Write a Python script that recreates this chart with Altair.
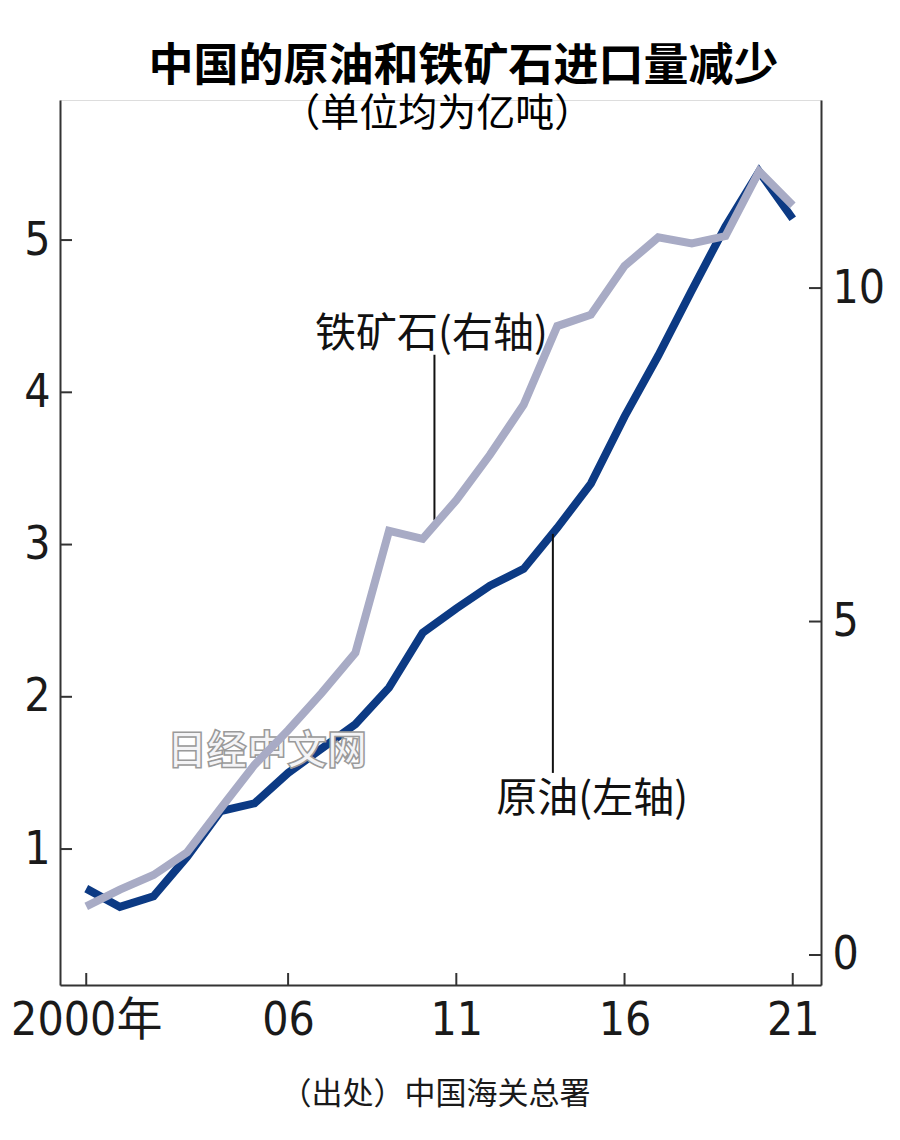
import altair as alt
import pandas as pd

# ---- data ----
years = list(range(2000, 2022))
crude_oil = [0.74, 0.62, 0.69, 0.95, 1.25, 1.30, 1.50, 1.66, 1.82, 2.06, 2.42,
             2.58, 2.73, 2.84, 3.11, 3.40, 3.84, 4.24, 4.67, 5.09, 5.45, 5.14]
iron_ore = [0.73, 0.98, 1.20, 1.54, 2.20, 2.85, 3.37, 3.93, 4.53, 6.36, 6.24,
            6.82, 7.50, 8.25, 9.43, 9.60, 10.33, 10.76, 10.67, 10.78, 11.75, 11.24]

x_tick_values = [2000, 2006, 2011, 2016, 2021]
left_tick_values = [1, 2, 3, 4, 5]
right_tick_values = [0, 5, 10]

title_text = "中国的原油和铁矿石进口量减少"
subtitle_text = "（单位均为亿吨）"
subtitle_pos = [2010.43, 5.825]          # year, left-axis units
source_text = "（出处）中国海关总署"

# annotation labels and leader lines (data units)
oil_label = "原油(左轴)"
oil_label_pos = [2015.04, 1.32]
oil_leader = [2013.87, 3.07, 1.50]      # x, y top, y bottom (left axis units)
iron_label = "铁矿石(右轴)"
iron_label_pos = [2010.26, 9.30]
iron_leader = [2010.35, 9.00, 6.52]     # x, y top, y bottom (right axis units)
watermark = "日经中文网"
watermark_pos = [2005.37, 1.64]

# ---- tables ----
df = pd.DataFrame({"year": years, "oil": crude_oil, "iron": iron_ore})
df_xt = pd.DataFrame({"year": x_tick_values})
df_lt = pd.DataFrame({"v": left_tick_values})
df_rt = pd.DataFrame({"v": right_tick_values})
df_oil_ann = pd.DataFrame({"x": [oil_leader[0]], "y": [oil_leader[1]], "y2": [oil_leader[2]]})
df_iron_ann = pd.DataFrame({"x": [iron_leader[0]], "y": [iron_leader[1]], "y2": [iron_leader[2]]})
df_oil_lab = pd.DataFrame({"x": [oil_label_pos[0]], "y": [oil_label_pos[1]], "t": [oil_label]})
df_iron_lab = pd.DataFrame({"x": [iron_label_pos[0]], "y": [iron_label_pos[1]], "t": [iron_label]})
df_wm = pd.DataFrame({"x": [watermark_pos[0]], "y": [watermark_pos[1]], "t": [watermark]})
df_sub = pd.DataFrame({"x": [subtitle_pos[0]], "y": [subtitle_pos[1]], "t": [subtitle_text]})

W, H = 761, 885
OIL_COLOR = "#0c3a84"
IRON_COLOR = "#a8abc5"
NUM_FONT = "Liberation Sans Narrow, DejaVu Sans Condensed, Noto Sans CJK SC"
CJK_FONT = "Noto Sans CJK SC"

x_scale = alt.Scale(domain=[1999.22, 2021.84], nice=False, zero=False)
yl_scale = alt.Scale(domain=[0.107, 5.92], nice=False, zero=False)
yr_scale = alt.Scale(domain=[-0.45, 12.82], nice=False, zero=False)

x_axis = alt.Axis(
    values=x_tick_values,
    labelExpr="datum.value == 2000 ? '2000年' : slice('0' + (datum.value % 100), -2)",
    ticks=False, tickSize=0, grid=False,
    domainColor="#333333", domainWidth=2,
    labelFont=NUM_FONT, labelFontSize=46, labelColor="#1a1a1a", labelPadding=13,
    title=source_text, titleFont=CJK_FONT, titleFontSize=31, titleFontWeight="normal",
    titleColor="#1a1a1a", titlePadding=36, titleX=375, titleAlign="center",
)
yl_axis = alt.Axis(
    values=left_tick_values, orient="left", format="d",
    ticks=False, tickSize=0, grid=False,
    domainColor="#333333", domainWidth=2,
    labelFont=NUM_FONT, labelFontSize=46, labelColor="#1a1a1a", labelPadding=10,
    title=None,
)
yr_axis = alt.Axis(
    values=right_tick_values, orient="right", format="d",
    ticks=False, tickSize=0, grid=False,
    domainColor="#333333", domainWidth=2,
    labelFont=NUM_FONT, labelFontSize=46, labelColor="#1a1a1a", labelPadding=11,
    title=None,
)

X = alt.X("year:Q", scale=x_scale, axis=x_axis)

# ---- left (crude oil) group ----
oil_line = alt.Chart(df).mark_line(
    color=OIL_COLOR, strokeWidth=8, strokeJoin="miter", strokeCap="butt"
).encode(x=X, y=alt.Y("oil:Q", scale=yl_scale, axis=yl_axis))

left_ticks = alt.Chart(df_lt).mark_rule(color="#333333", strokeWidth=2).encode(
    y=alt.Y("v:Q", scale=yl_scale), x=alt.value(0), x2=alt.value(12)
)
x_ticks = alt.Chart(df_xt).mark_rule(color="#333333", strokeWidth=2).encode(
    x=alt.X("year:Q", scale=x_scale), y=alt.value(H - 12), y2=alt.value(H)
)
oil_leader_rule = alt.Chart(df_oil_ann).mark_rule(color="#111111", strokeWidth=2).encode(
    x=alt.X("x:Q", scale=x_scale), y=alt.Y("y:Q", scale=yl_scale), y2="y2:Q"
)
oil_text = alt.Chart(df_oil_lab).mark_text(
    font=CJK_FONT, fontSize=41, color="#111111", align="center", baseline="middle"
).encode(x=alt.X("x:Q", scale=x_scale), y=alt.Y("y:Q", scale=yl_scale), text="t:N")
wm_text = alt.Chart(df_wm).mark_text(
    font=CJK_FONT, fontSize=40, fontWeight="bold", fill="#f4f4f6", stroke="#9a9a9a",
    strokeWidth=1.5, align="center", baseline="middle"
).encode(x=alt.X("x:Q", scale=x_scale), y=alt.Y("y:Q", scale=yl_scale), text="t:N")
sub_text = alt.Chart(df_sub).mark_text(
    font=CJK_FONT, fontSize=39, color="#000000", align="center", baseline="middle"
).encode(x=alt.X("x:Q", scale=x_scale), y=alt.Y("y:Q", scale=yl_scale), text="t:N")

left = alt.layer(oil_line, left_ticks, x_ticks, oil_leader_rule, oil_text, wm_text, sub_text)

# ---- right (iron ore) group ----
iron_line = alt.Chart(df).mark_line(
    color=IRON_COLOR, strokeWidth=8, strokeJoin="miter", strokeCap="butt"
).encode(x=X, y=alt.Y("iron:Q", scale=yr_scale, axis=yr_axis))
right_ticks = alt.Chart(df_rt).mark_rule(color="#333333", strokeWidth=2).encode(
    y=alt.Y("v:Q", scale=yr_scale), x=alt.value(W - 12), x2=alt.value(W)
)
iron_leader_rule = alt.Chart(df_iron_ann).mark_rule(color="#111111", strokeWidth=2).encode(
    x=alt.X("x:Q", scale=x_scale), y=alt.Y("y:Q", scale=yr_scale), y2="y2:Q"
)
iron_text = alt.Chart(df_iron_lab).mark_text(
    font=CJK_FONT, fontSize=41, color="#111111", align="center", baseline="middle"
).encode(x=alt.X("x:Q", scale=x_scale), y=alt.Y("y:Q", scale=yr_scale), text="t:N")

right = alt.layer(iron_leader_rule, iron_line, right_ticks, iron_text)

chart = alt.layer(left, right).resolve_scale(y="independent").properties(
    width=W, height=H,
    autosize=alt.AutoSizeParams(type="none"),
    padding={"left": 52, "top": 92, "right": 71, "bottom": 147},
    title=alt.TitleParams(
        text=title_text,
        font=CJK_FONT, fontSize=45, fontWeight="bold", color="#000000",
        anchor="middle", frame="group", offset=5, dx=23,
    ),
).configure_view(stroke=None).configure(background="#ffffff")

chart.save("out.html", embed_options={"renderer": "svg", "actions": False})
